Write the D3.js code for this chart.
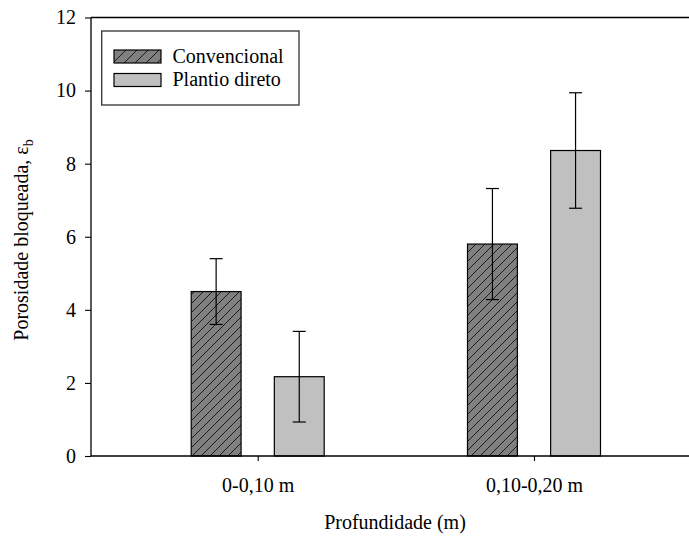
<!DOCTYPE html>
<html>
<head>
<meta charset="utf-8">
<script src="https://cdn.jsdelivr.net/npm/d3@7"></script>
<style>
body { margin: 0; background: #fff; }
svg text { font-family: "Liberation Serif", "Times New Roman", serif; }
</style>
</head>
<body>
<svg id="chart" width="689" height="537"></svg>
<script>
const groups = ["0-0,10 m", "0,10-0,20 m"];
const seriesNames = ["Convencional", "Plantio direto"];
const convencional = [4.50, 5.80];
const convencionalErr = [0.90, 1.52];
const plantio = [2.17, 8.36];
const plantioErr = [1.24, 1.58];
const yTicks = [0, 2, 4, 6, 8, 10, 12];

(function () {
const svg = d3.select("#chart");
const pLeft = 91, pRight = 689, pTop = 17.5, pBottom = 456;

const x = d3.scalePoint().domain(groups).range([257.7, 534]);
const xi = d3.scaleBand().domain(seriesNames).range([-66.5, 66.5]).paddingInner(0.4).paddingOuter(0);
const y = d3.scaleLinear().domain([0, 12]).range([pBottom, pTop]);

const defs = svg.append("defs");
function hatch(id, size) {
  const p = defs.append("pattern").attr("id", id).attr("patternUnits", "userSpaceOnUse")
    .attr("width", size).attr("height", size);
  p.append("rect").attr("width", size).attr("height", size).attr("fill", "#808080");
  p.append("path").attr("d", `M0,${size} L${size},0 M${-size/2},${size/2} L${size/2},${-size/2} M${size/2},${size*1.5} L${size*1.5},${size/2}`)
    .attr("stroke", "#000").attr("stroke-width", 0.8);
}
hatch("hatch", 9);
hatch("hatchLeg", 11);

const fills = { "Convencional": "url(#hatch)", "Plantio direto": "#c0c0c0" };
const legFills = { "Convencional": "url(#hatchLeg)", "Plantio direto": "#c0c0c0" };

const rows = [];
groups.forEach((g, i) => {
  rows.push({ g, s: "Convencional", v: convencional[i], e: convencionalErr[i] });
  rows.push({ g, s: "Plantio direto", v: plantio[i], e: plantioErr[i] });
});

svg.append("line").attr("x1", pLeft).attr("x2", pRight).attr("y1", pTop).attr("y2", pTop)
  .attr("stroke", "#000").attr("stroke-width", 1.3);

svg.selectAll("rect.bar").data(rows).join("rect").attr("class", "bar")
  .attr("x", d => x(d.g) + xi(d.s))
  .attr("width", xi.bandwidth())
  .attr("y", d => y(d.v))
  .attr("height", d => y(0) - y(d.v))
  .attr("fill", d => fills[d.s])
  .attr("stroke", "#000").attr("stroke-width", 1.2);

const capW = 13;
const cx = d => x(d.g) + xi(d.s) + xi.bandwidth() / 2;
const eb = svg.selectAll("g.err").data(rows).join("g").attr("class", "err")
  .attr("stroke", "#000").attr("stroke-width", 1.2);
eb.append("line").attr("x1", cx).attr("x2", cx)
  .attr("y1", d => y(d.v + d.e)).attr("y2", d => y(d.v - d.e));
eb.append("line").attr("x1", d => cx(d) - capW / 2).attr("x2", d => cx(d) + capW / 2)
  .attr("y1", d => y(d.v + d.e)).attr("y2", d => y(d.v + d.e));
eb.append("line").attr("x1", d => cx(d) - capW / 2).attr("x2", d => cx(d) + capW / 2)
  .attr("y1", d => y(d.v - d.e)).attr("y2", d => y(d.v - d.e));

const yAxis = svg.append("g").attr("transform", `translate(${pLeft},0)`)
  .call(d3.axisLeft(y).tickValues(yTicks).tickSize(6).tickPadding(9).tickFormat(d3.format("d")));
yAxis.select(".domain").attr("stroke-width", 1.3).attr("d", `M0,${pBottom}V${pTop}`);
yAxis.selectAll(".tick line").attr("stroke-width", 1.1);
yAxis.selectAll("text").attr("font-size", 20).attr("font-family", "Liberation Serif, serif").attr("fill", "#000");

const xAxis = svg.append("g").attr("transform", `translate(0,${pBottom})`)
  .call(d3.axisBottom(x).tickSize(5).tickPadding(17));
xAxis.select(".domain").attr("stroke-width", 1.3).attr("d", `M${pLeft},0H${pRight}`);
xAxis.selectAll(".tick line").attr("stroke-width", 1.1);
xAxis.selectAll("text").attr("font-size", 20).attr("font-family", "Liberation Serif, serif").attr("fill", "#000");

svg.append("text").attr("x", 395).attr("y", 529).attr("text-anchor", "middle")
  .attr("font-size", 20).text("Profundidade (m)");
const yt = svg.append("text").attr("transform", "translate(28,240) rotate(-90)")
  .attr("text-anchor", "middle").attr("font-size", 20);
yt.append("tspan").text("Porosidade bloqueada, ε");
yt.append("tspan").attr("font-size", 14).attr("dy", 5).text("b");

const leg = svg.append("g");
leg.append("rect").attr("x", 101.7).attr("y", 31).attr("width", 197.3).attr("height", 74)
  .attr("fill", "#fff").attr("stroke", "#333").attr("stroke-width", 1.3);
seriesNames.forEach((s, i) => {
  const yy = 50 + i * 23.5;
  leg.append("rect").attr("x", 114).attr("y", yy).attr("width", 47).attr("height", 13)
    .attr("fill", legFills[s]).attr("stroke", "#000").attr("stroke-width", 1.2);
  leg.append("text").attr("x", 172.5).attr("y", yy + 12.5).attr("font-size", 20).text(s);
});
})();
</script>
</body>
</html>
